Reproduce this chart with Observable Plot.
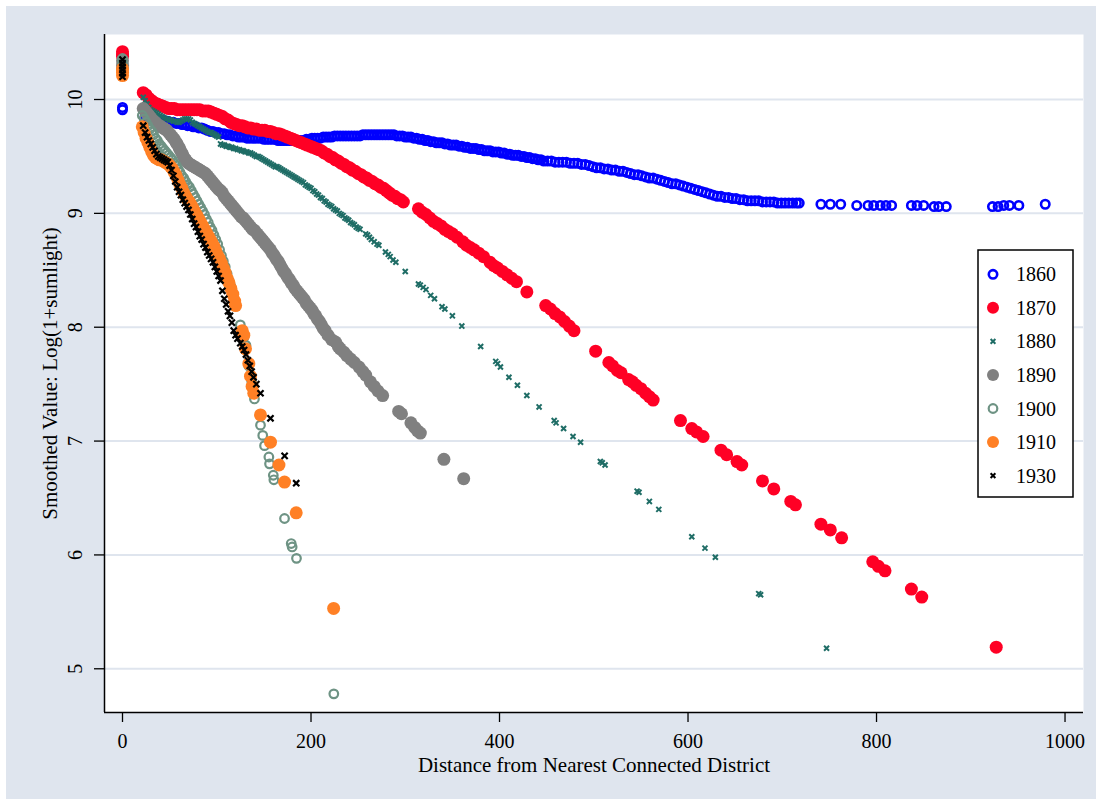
<!DOCTYPE html>
<html><head><meta charset="utf-8">
<script src="https://cdn.jsdelivr.net/npm/d3@7"></script>
<script src="https://cdn.jsdelivr.net/npm/@observablehq/plot@0.6"></script>
<style>
html,body{margin:0;padding:0;background:#fff;}
#wrap{position:absolute;left:6px;top:6px;width:1090px;height:793px;background:#dfe5ee;}
#wrap svg text{font-family:'Liberation Serif','Times New Roman',Times,serif;}
</style></head><body><div id="wrap"></div>
<script>
const years = ["1860","1870","1880","1890","1900","1910","1930"];
const xTicks = [0,200,400,600,800,1000];
const yTicks = [5,6,7,8,9,10];
const xLabel = "Distance from Nearest Connected District";
const yLabel = "Smoothed Value: Log(1+sumlight)";

const s1860 = [[0,9.93],[0,9.91],
[24,9.85],[27,9.84],[30,9.84],[33,9.83],[36,9.83],[39,9.82],[42,9.82],[45,9.81],[48,9.81],[51,9.80],[54,9.80],[57,9.79],[60,9.79],[63,9.78],[66,9.78],[69,9.77],[72,9.77],[75,9.76],[78,9.76],[81,9.75],[84,9.75],[87,9.74],[90,9.73],[93,9.72],[96,9.72],[99,9.71],[102,9.71],[105,9.70],[108,9.70],[111,9.69],[114,9.69],[117,9.68],[120,9.68],[123,9.67],[126,9.67],[129,9.67],[132,9.66],[135,9.66],[138,9.66],[141,9.66],[144,9.66],[147,9.66],[150,9.65],[153,9.65],[156,9.65],[159,9.65],[162,9.65],[165,9.64],[168,9.64],[171,9.64],[174,9.64],[177,9.64],[180,9.64],[183,9.64],[186,9.64],[189,9.64],[192,9.64],[195,9.65],[198,9.65],[201,9.66],[204,9.66],[207,9.66],[210,9.66],[213,9.67],[216,9.67],[219,9.67],[222,9.67],[225,9.68],[228,9.68],[231,9.68],[234,9.68],[237,9.68],[240,9.68],[243,9.68],[246,9.68],[249,9.68],[252,9.68],[255,9.69],[258,9.69],[261,9.69],[264,9.69],[267,9.69],[270,9.69],[273,9.69],[276,9.69],[279,9.69],[282,9.69],[285,9.69],[288,9.69],[291,9.68],[294,9.68],[297,9.68],[300,9.67],[303,9.67],[306,9.67],[309,9.66],[312,9.66],[315,9.65],[318,9.65],[321,9.64],[324,9.64],[327,9.63],[330,9.63],[333,9.62],[336,9.62],[339,9.62],[342,9.61],[345,9.61],[348,9.60],[351,9.60],[354,9.60],[357,9.59],[360,9.59],[363,9.58],[366,9.58],[369,9.57],[372,9.57],[375,9.57],[378,9.56],[381,9.56],[384,9.55],[387,9.55],[390,9.55],[393,9.54],[396,9.54],[399,9.54],[402,9.53],[405,9.53],[408,9.52],[411,9.52],[414,9.51],[417,9.51],[420,9.51],[423,9.50],[426,9.50],[429,9.49],[432,9.49],[435,9.48],[438,9.48],[441,9.47],[444,9.47],[447,9.46],
[451,9.46],[455,9.46],[459,9.45],[463,9.45],[467,9.45],[471,9.45],[475,9.44],[479,9.44],[483,9.44],[487,9.43],[491,9.43],[495,9.42],[499,9.41],[503,9.40],[507,9.40],[511,9.39],[515,9.39],[519,9.38],[523,9.38],[527,9.37],[531,9.37],[535,9.36],[539,9.35],[543,9.34],[547,9.34],[551,9.33],[555,9.32],[559,9.31],[563,9.31],[567,9.30],[571,9.29],[575,9.28],[579,9.27],[583,9.26],[587,9.26],[591,9.25],[595,9.24],[599,9.23],[603,9.22],[607,9.21],[611,9.20],[615,9.19],[619,9.18],[623,9.17],[627,9.16],[631,9.15],[635,9.15],[639,9.14],[643,9.14],[647,9.13],[651,9.13],[655,9.12],[659,9.12],[663,9.11],[667,9.11],[671,9.11],[675,9.11],[679,9.10],[683,9.10],[687,9.10],[691,9.10],[695,9.09],[699,9.09],[703,9.09],[707,9.09],[711,9.09],[715,9.09],[718,9.09],
[741,9.08],[751,9.08],[762,9.08],[779,9.07],[791,9.07],[797,9.07],[804,9.07],[810,9.07],[816,9.07],[837,9.07],[843,9.07],[850,9.07],[861,9.06],[866,9.06],[874,9.06],[923,9.06],[929,9.06],[935,9.07],[941,9.07],[951,9.07],[979,9.08]];

const s1870 = [[0,10.42],[0,10.40],[0,10.38],
[22,10.06],[25,10.04],[28,10.01],[31,9.99],[34,9.97],[37,9.96],[40,9.95],[43,9.94],[46,9.93],[49,9.92],[52,9.92],[55,9.92],[58,9.91],[61,9.91],[64,9.91],[67,9.91],[70,9.91],[73,9.91],[76,9.91],[79,9.91],[82,9.91],[85,9.90],[88,9.90],[91,9.90],[94,9.89],[97,9.88],[100,9.87],[103,9.86],[106,9.85],[109,9.83],[112,9.82],[115,9.80],[118,9.79],[121,9.78],[124,9.77],[127,9.77],[130,9.76],[133,9.75],[136,9.75],[139,9.74],[142,9.74],[145,9.73],[148,9.73],[151,9.73],[154,9.72],[157,9.72],[160,9.71],[163,9.70],[166,9.70],[169,9.69],[172,9.68],[175,9.67],[178,9.66],[181,9.65],[184,9.64],[187,9.63],[190,9.62],[193,9.61],[196,9.60],[199,9.59],[202,9.58],[205,9.57],[208,9.56],[211,9.55],[214,9.53],[217,9.52],[220,9.50],[223,9.49],[226,9.47],[229,9.46],[232,9.44],[235,9.43],[238,9.41],[241,9.40],[244,9.38],[247,9.37],[250,9.35],[253,9.34],[256,9.32],[259,9.31],[262,9.29],[265,9.28],[268,9.26],[271,9.25],[274,9.23],[277,9.22],[280,9.20],[283,9.18],[286,9.16],[289,9.15],[292,9.13],[295,9.12],[298,9.10],
[314,9.04],[318,9.01],[322,8.99],[326,8.96],[330,8.93],[334,8.91],[338,8.89],[342,8.86],[346,8.84],[350,8.82],[355,8.79],[361,8.75],[365,8.72],[369,8.70],[373,8.68],[378,8.65],[383,8.62],[390,8.57],[394,8.54],[398,8.52],[403,8.49],[408,8.46],[413,8.43],[418,8.40],[429,8.31],[449,8.19],[454,8.16],[459,8.12],[464,8.09],[469,8.05],[474,8.01],[479,7.97],[502,7.79],[516,7.69],[520,7.66],[525,7.62],[529,7.60],[537,7.54],[541,7.52],[545,7.49],[550,7.46],[555,7.42],[559,7.39],[563,7.36],[592,7.18],[604,7.11],[609,7.08],[616,7.04],[635,6.92],[641,6.88],[652,6.82],[657,6.79],[679,6.65],[691,6.58],[709,6.47],[714,6.44],[741,6.27],[751,6.22],[763,6.15],[796,5.94],[802,5.90],[809,5.86],[837,5.70],[848,5.63],[927,5.19]];

const s1880 = [[0,10.36],[0,10.33],[0,10.30],[0,10.27],[0,10.25],
[22,10.02],[24,9.99],[26,9.96],[28,9.93],[30,9.91],[32,9.90],[34,9.89],[36,9.88],[38,9.87],[40,9.86],[42,9.85],[44,9.84],[46,9.83],[48,9.83],[50,9.82],[52,9.82],[54,9.81],[56,9.81],[58,9.80],[60,9.80],[62,9.81],[64,9.82],[66,9.83],[68,9.83],[70,9.83],[72,9.82],[74,9.80],[76,9.79],[78,9.78],[80,9.77],[82,9.76],[84,9.75],[86,9.74],[88,9.73],[90,9.72],[92,9.71],[94,9.71],[96,9.70],[98,9.69],[100,9.68],[102,9.67],
[104,9.61],[106,9.60],[108,9.60],[110,9.59],[112,9.59],[114,9.58],[116,9.58],[118,9.57],[120,9.57],[122,9.56],[124,9.56],[126,9.55],[128,9.55],[130,9.54],[132,9.54],[134,9.53],[136,9.53],[138,9.52],[140,9.51],[142,9.50],[144,9.50],[146,9.49],[148,9.48],[150,9.47],[152,9.46],[154,9.45],[156,9.44],[158,9.43],[160,9.42],[162,9.41],[164,9.41],[166,9.40],[168,9.39],[170,9.38],[172,9.37],[174,9.36],[176,9.35],[178,9.34],[180,9.33],[182,9.32],[184,9.31],[186,9.30],[188,9.29],[190,9.28],[192,9.27],[194,9.25],[196,9.24],[198,9.23],[200,9.22],[202,9.20],[204,9.19],[206,9.17],[208,9.16],[210,9.14],[212,9.13],[214,9.11],[216,9.10],[218,9.08],[220,9.07],[222,9.06],[224,9.04],[226,9.03],[228,9.02],[230,9.00],[232,8.99],[234,8.98],[236,8.96],[238,8.95],[240,8.94],[242,8.92],[244,8.91],[246,8.90],[248,8.88],[250,8.87],[252,8.86],
[258,8.82],[260,8.81],[262,8.79],[264,8.77],[267,8.75],[270,8.73],[272,8.72],[279,8.66],[282,8.64],[284,8.62],[287,8.59],[290,8.57],[300,8.49],[314,8.38],[316,8.37],[319,8.35],[322,8.33],[327,8.28],[331,8.25],[339,8.18],[342,8.16],[350,8.10],[360,8.01],[380,7.83],[396,7.70],[398,7.68],[401,7.65],[410,7.56],[419,7.49],[429,7.40],[442,7.30],[458,7.18],[460,7.16],[468,7.11],[478,7.04],[486,6.99],[507,6.82],[509,6.81],[512,6.79],[546,6.56],[548,6.55],[559,6.47],[569,6.40],[604,6.16],[618,6.06],[629,5.98],[675,5.66],[677,5.65],[747,5.18]];

const s1890 = [[0,10.34],[0,10.30],[0,10.27],
[22,9.92],[24,9.90],[26,9.88],[28,9.86],[30,9.84],[32,9.82],[35,9.80],[37,9.78],[39,9.77],[41,9.76],[43,9.75],[45,9.74],[47,9.73],[49,9.71],[51,9.69],[53,9.67],[55,9.65],[57,9.62],[58,9.61],[60,9.58],[61,9.56],[63,9.53],[64,9.51],[66,9.48],[67,9.47],[69,9.45],[70,9.44],[72,9.43],[74,9.42],[76,9.41],[78,9.40],[80,9.39],[82,9.38],[84,9.37],[86,9.36],[88,9.35],[90,9.33],[92,9.31],[94,9.29],[96,9.27],[98,9.25],[100,9.23],[102,9.21],[104,9.20],[106,9.18],[108,9.15],[110,9.13],[112,9.11],[114,9.09],[116,9.07],[118,9.05],[120,9.03],[122,9.01],[124,8.99],[126,8.97],[128,8.96],[130,8.94],[132,8.92],[134,8.90],[136,8.88],[138,8.86],[140,8.85],[143,8.82],[145,8.80],[147,8.78],[149,8.76],[151,8.74],[153,8.72],[155,8.70],[157,8.68],[159,8.65],[161,8.63],[163,8.60],[165,8.58],[167,8.55],[169,8.52],[171,8.49],[173,8.47],[175,8.44],[177,8.42],[179,8.39],[181,8.37],[183,8.34],[185,8.32],[187,8.30],[189,8.28],[191,8.26],[193,8.24],[195,8.21],[197,8.19],[199,8.17],[201,8.15],[203,8.12],[205,8.10],[207,8.07],[209,8.05],[211,8.02],[213,7.99],[215,7.97],[218,7.93],[222,7.89],[226,7.87],[229,7.83],[231,7.81],[235,7.78],[238,7.75],[242,7.72],[246,7.69],[251,7.65],[255,7.61],[258,7.58],[263,7.52],[267,7.48],[271,7.44],[276,7.40],[293,7.26],[296,7.24],[306,7.16],[310,7.12],[313,7.09],[316,7.07],[341,6.84],[362,6.67]];

const s1900 = [[0,10.36],[0,10.32],[0,10.29],[0,10.26],
[21,9.86],[23,9.83],[25,9.80],[27,9.77],[29,9.74],[31,9.72],[33,9.69],[35,9.66],[37,9.64],[39,9.61],[41,9.59],[43,9.57],[45,9.55],[47,9.53],[49,9.51],[51,9.49],[53,9.47],[55,9.44],[57,9.42],[59,9.39],[61,9.36],[63,9.33],[65,9.31],[67,9.28],[69,9.25],[71,9.23],[73,9.20],[75,9.17],[77,9.14],[79,9.11],[81,9.08],[83,9.05],[85,9.02],[87,8.99],[89,8.95],[91,8.92],[93,8.88],[95,8.85],[97,8.81],[99,8.77],[101,8.73],[103,8.68],[105,8.63],[107,8.58],[109,8.53],[111,8.47],[113,8.41],[115,8.36],[117,8.30],[118,8.27],
[125,8.02],[128.7,7.91],[131,7.84],[134,7.66],[137,7.53],[140,7.37],[146.4,7.14],[148.8,7.05],[150.7,6.96],[155.3,6.86],[156,6.80],[160,6.70],[160.6,6.66],[171.9,6.32],[179,6.10],[180,6.07],[184.6,5.97],[224.2,4.78]];

const s1910 = [[0,10.27],[0,10.24],[0,10.21],
[21,9.76],[23,9.71],[25,9.66],[27,9.62],[29,9.58],[31,9.54],[33,9.51],[35,9.49],[37,9.48],[39,9.47],[41,9.47],[43,9.46],[45,9.45],[47,9.44],[49,9.43],[51,9.41],[53,9.39],[55,9.36],[57,9.33],[59,9.29],[61,9.25],[63,9.22],[65,9.18],[67,9.15],[69,9.12],[71,9.10],[73,9.07],[75,9.04],[77,9.01],[79,8.98],[81,8.95],[83,8.92],[85,8.89],[87,8.86],[89,8.83],[91,8.80],[93,8.77],[95,8.74],[97,8.71],[99,8.67],[101,8.63],[103,8.60],[105,8.56],[107,8.52],[109,8.48],[111,8.43],[113,8.39],[115,8.34],[117,8.29],[119,8.23],[120,8.19],
[127,7.97],[128.7,7.93],[130.5,7.81],[134,7.68],[135.8,7.57],[137.5,7.48],[139.3,7.42],[146.4,7.23],[157,6.99],[166,6.79],[171.9,6.64],[184.3,6.37],[224,5.53]];

const s1930 = [[0,10.35],[0,10.32],[0,10.29],[0,10.26],[0,10.23],[0,10.20],
[22,9.77],[24,9.71],[26,9.67],[28,9.64],[30,9.61],[32,9.58],[34,9.55],[36,9.52],[38,9.50],[40,9.49],[42,9.48],[44,9.47],[46,9.46],[48,9.45],[50,9.42],[52,9.38],[54,9.33],[56,9.28],[58,9.23],[60,9.19],[62,9.16],[64,9.12],[66,9.09],[68,9.06],[70,9.03],[72,8.99],[74,8.95],[76,8.91],[78,8.88],[80,8.84],[82,8.80],[84,8.77],[86,8.73],[88,8.70],[90,8.66],[92,8.63],[94,8.60],[96,8.57],[98,8.53],[100,8.49],[102,8.45],[104,8.41],[106,8.32],[108,8.25],[110,8.20],[112,8.14],[114,8.10],[116,8.04],[118,7.97],[120,7.93],[122,7.90],[125,7.86],[127,7.83],[129,7.80],[131,7.76],[133,7.71],[135,7.66],[137,7.61],[139,7.56],[142,7.50],[146.4,7.42],[157,7.20],[172,6.87],[184.3,6.63]];

const seriesData = {"1860":s1860,"1870":s1870,"1880":s1880,"1890":s1890,"1900":s1900,"1910":s1910,"1930":s1930};

const look = {
  "1860": {kind:"ring", color:"#0000fe", r:4.2, sw:2.6},
  "1870": {kind:"disc", color:"#ff0025", r:6.5},
  "1880": {kind:"x", color:"#1f6d66", r:2.4, sw:2},
  "1890": {kind:"disc", color:"#808080", r:6.5},
  "1900": {kind:"ring", color:"#6e9384", r:4.3, sw:2.2},
  "1910": {kind:"disc", color:"#ff8025", r:6.5},
  "1930": {kind:"x", color:"#000000", r:2.9, sw:2.2}
};

const rows = years.flatMap(yr => seriesData[yr].map(([x,y]) => ({year: yr, x, y})));

const dotMarks = years.map(yr => {
  const L = look[yr];
  const data = rows.filter(d => d.year === yr);
  if (L.kind === "ring") return Plot.dot(data, {x:"x", y:"y", r:L.r, fill:"none", stroke:L.color, strokeWidth:L.sw});
  if (L.kind === "disc") return Plot.dot(data, {x:"x", y:"y", r:L.r, fill:L.color, stroke:"none"});
  return Plot.dot(data, {x:"x", y:"y", r:L.r, symbol:"times", stroke:L.color, strokeWidth:L.sw});
});

const xDom = [-19.1, 1019.6];
const yDom = [4.616, 10.571];
const font = "'Liberation Serif', 'Times New Roman', Times, serif";

const plot = Plot.plot({
  width:1090, height:793,
  marginLeft:98, marginTop:28, marginRight:13, marginBottom:87,
  style:{background:"transparent", fontFamily:font, fontSize:"20px", color:"black", overflow:"visible"},
  x:{domain:xDom}, y:{domain:yDom},
  marks:[
    Plot.frame({fill:"white", stroke:"none"}),
    Plot.gridY(yTicks, {stroke:"#dfe5ee", strokeOpacity:1, strokeWidth:2}),
    ...dotMarks,
    Plot.ruleX([xDom[0]], {stroke:"black", strokeWidth:1.5}),
    Plot.ruleY([yDom[0]], {stroke:"black", strokeWidth:1.5}),
    Plot.axisX(xTicks, {tickSize:10, tickPadding:11, label:null, strokeWidth:1.3, fontSize:20, tickFormat:d => String(d)}),
    Plot.axisY(yTicks, {tickSize:10, tickFormat:() => "", label:null, strokeWidth:1.3}),
    Plot.text(yTicks, {y:d => d, frameAnchor:"left", text:d => String(d), rotate:-90, dx:-29, textAnchor:"middle", lineAnchor:"middle", fontSize:20}),
    Plot.text([yLabel], {frameAnchor:"left", text:d => d, rotate:-90, dx:-54, textAnchor:"middle", lineAnchor:"middle", fontSize:21}),
    Plot.text([xLabel], {frameAnchor:"bottom", text:d => d, dy:53, textAnchor:"middle", lineAnchor:"middle", fontSize:21})
  ]
});

// legend box (inside plot region, upper right)
const svg = d3.select(plot);
const lg = svg.append("g");
lg.append("rect").attr("x",972).attr("y",244).attr("width",95).attr("height",247)
  .attr("fill","white").attr("stroke","black").attr("stroke-width",1.5);
years.forEach((yr, i) => {
  const L = look[yr];
  const cy = 268.3 + i * 33.55, cx = 987;
  if (L.kind === "ring") lg.append("circle").attr("cx",cx).attr("cy",cy).attr("r",L.r).attr("fill","none").attr("stroke",L.color).attr("stroke-width",L.sw);
  else if (L.kind === "disc") lg.append("circle").attr("cx",cx).attr("cy",cy).attr("r",6).attr("fill",L.color);
  else lg.append("path").attr("transform",`translate(${cx},${cy})`).attr("d", d3.symbol(d3.symbolTimes, Math.PI*2.3*2.3)()).attr("fill","none").attr("stroke",L.color).attr("stroke-width",2);
  lg.append("text").attr("x",1010).attr("y",cy).attr("dy","0.35em").attr("text-anchor","start")
    .attr("fill","black").style("font-size","20px").text(yr);
});

document.getElementById("wrap").appendChild(plot);
</script>
</body></html>
